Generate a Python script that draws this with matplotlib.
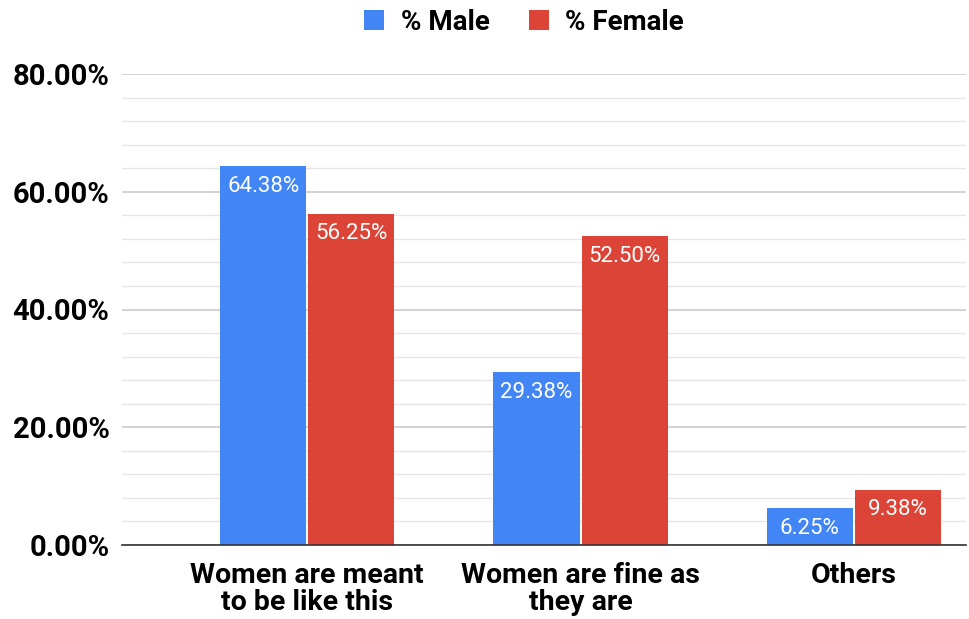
import matplotlib
matplotlib.use("Agg")
import matplotlib.pyplot as plt
import numpy as np
from matplotlib.ticker import MultipleLocator, FuncFormatter

categories = ["Women are meant\nto be like this", "Women are fine as\nthey are", "Others"]
male = [64.38, 29.38, 6.25]
female = [56.25, 52.50, 9.38]
series_names = ["% Male", "% Female"]
colors = ["#4285F4", "#DB4437"]

plt.rcParams['font.family'] = ['Roboto', 'DejaVu Sans']

fig = plt.figure(figsize=(9.69, 6.19), dpi=100)
ax = fig.add_axes([122/969, 1-545/619, (966-122)/969, (545-74)/619])

x = np.arange(len(categories))
w = 0.315
gap = 0.004
b1 = ax.bar(x - w/2 - gap, male, w, color=colors[0], label=series_names[0], zorder=3)
b2 = ax.bar(x + w/2 + gap, female, w, color=colors[1], label=series_names[1], zorder=3)

for bars, vals in ((b1, male), (b2, female)):
    for r, v in zip(bars, vals):
        ax.annotate(f"{v:.2f}%", (r.get_x() + r.get_width()/2, v),
                    xytext=(0, -14.5), textcoords="offset points",
                    ha="center", va="center", color="white", fontsize=16, zorder=4)

ax.set_xlim(-0.678, 2.41)
ax.set_ylim(0, 80)
ax.yaxis.set_major_locator(MultipleLocator(20))
ax.yaxis.set_minor_locator(MultipleLocator(4))
ax.yaxis.set_major_formatter(FuncFormatter(lambda v, p: f"{v:.2f}%"))
ax.grid(axis='y', which='major', color='#cccccc', linewidth=1.2, zorder=0)
ax.grid(axis='y', which='minor', color='#e6e6e6', linewidth=1.0, zorder=0)
ax.set_xticks(x)
ax.set_xticklabels(categories, fontsize=20.5, fontweight='bold', linespacing=1.0)
for lab in ax.get_yticklabels():
    lab.set_fontsize(21)
    lab.set_fontweight('bold')
ax.tick_params(axis='x', length=0, pad=12)
ax.tick_params(axis='y', which='both', length=0, pad=9)
for s in ["top", "right", "left"]:
    ax.spines[s].set_visible(False)
ax.spines["bottom"].set_color("#333333")
ax.spines["bottom"].set_linewidth(1.2)
ax.spines["bottom"].set_zorder(5)

fig.legend(handles=[b1, b2], labels=series_names, loc="center", bbox_to_anchor=(524/969, 1-22/619),
           ncol=2, frameon=False, prop={'size': 20, 'weight': 'bold'},
           handlelength=0.72, handleheight=0.72, handletextpad=0.6, columnspacing=1.4)

fig.savefig("out.png", dpi=100)
